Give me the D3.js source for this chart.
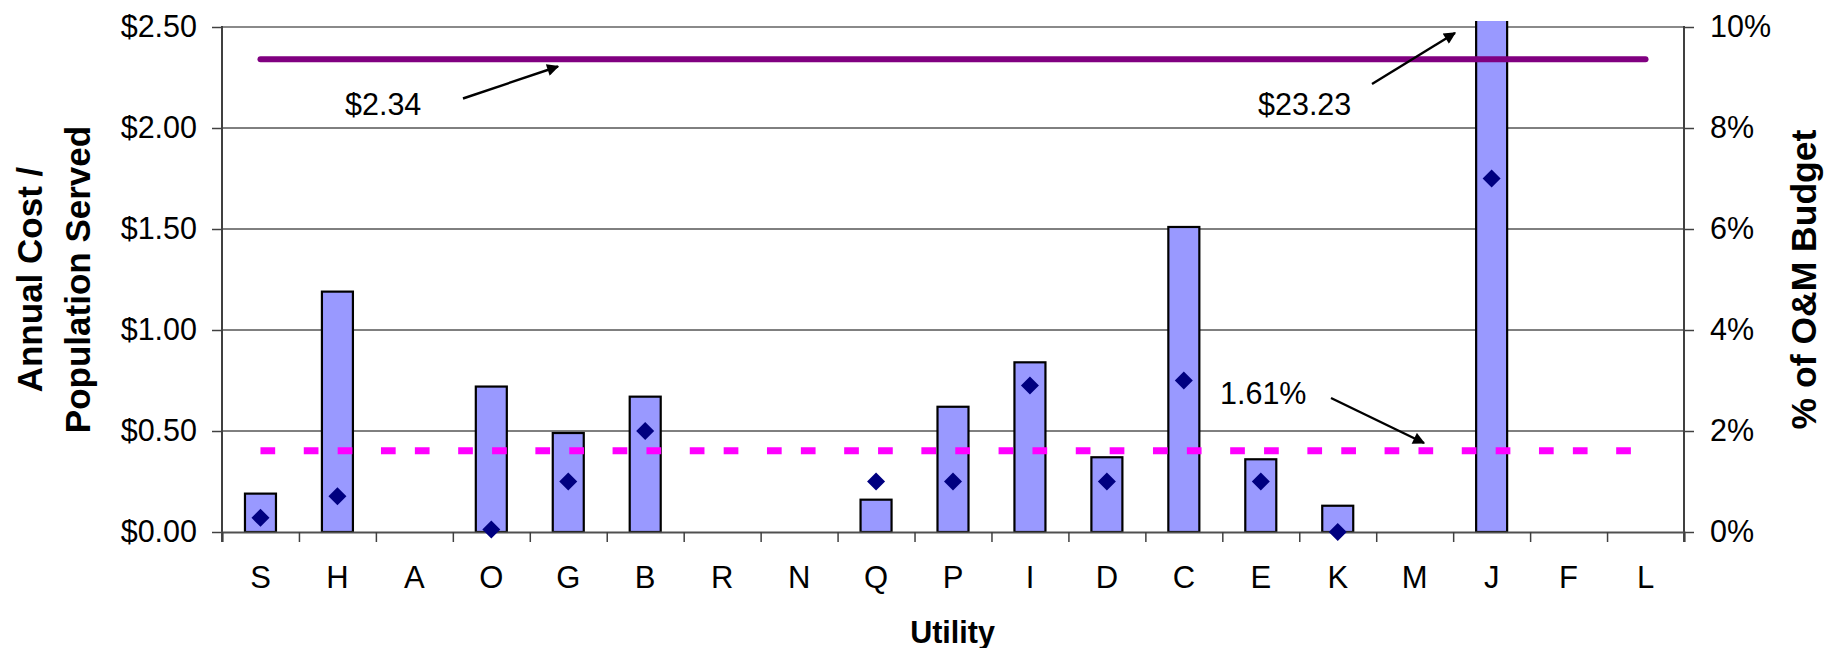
<!DOCTYPE html>
<html>
<head>
<meta charset="utf-8">
<script src="https://cdn.jsdelivr.net/npm/d3@7"></script>
<style>
  html, body { margin: 0; padding: 0; background: #fff; }
  svg { display: block; }
  text { font-family: "Liberation Sans", Arial, sans-serif; fill: #000; }
</style>
</head>
<body>
<svg id="chart" width="1831" height="648"></svg>
<script>
// Utilities, in the order they appear along the x axis
const utilities = ["S","H","A","O","G","B","R","N","Q","P","I","D","C","E","K","M","J","F","L"];
// Annual cost per person served (dollars); null = not reported
const costPerCapita = [0.19, 1.19, null, 0.72, 0.49, 0.67, null, null, 0.16, 0.62, 0.84, 0.37, 1.51, 0.36, 0.13, null, 23.23, null, null];
// Share of the O&M budget (percent)
const pctOfBudget = [0.28, 0.71, null, 0.05, 1.0, 2.0, null, null, 1.0, 1.0, 2.9, 1.0, 3.0, 1.0, 0.0, null, 7.0, null, null];
// Averages across reporting utilities
const averageCost = 2.34;
const averagePct = 1.61;
const outlierCost = 23.23;
// Axis ticks
const costTicks = [0, 0.5, 1.0, 1.5, 2.0, 2.5];
const pctTicks = [0, 2, 4, 6, 8, 10];

const svg = d3.select("#chart");
const W = 1831, H = 648;
const m = { left: 222, right: 1684, top: 27, bottom: 532 };
const FONT = "'Liberation Sans', Arial, sans-serif";

svg.append("rect").attr("width", W).attr("height", H).attr("fill", "#fff");

const xBand = d3.scaleBand().domain(utilities).range([m.left, m.right]).paddingInner(0).paddingOuter(0);
const xIdx = d3.scaleLinear().domain([0, utilities.length]).range([m.left, m.right]);
const yCost = d3.scaleLinear().domain([0, 2.5]).range([m.bottom, m.top]);
const yPct = d3.scaleLinear().domain([0, 10]).range([m.bottom, m.top]);
const cx = u => xBand(u) + xBand.bandwidth() / 2;

// Horizontal gridlines
svg.append("g").selectAll("line")
  .data(costTicks.filter(t => t > 0 && t < 2.5))
  .join("line")
  .attr("x1", m.left).attr("x2", m.right)
  .attr("y1", d => yCost(d)).attr("y2", d => yCost(d))
  .attr("stroke", "#000").attr("stroke-width", 1);

// Top border of the plot area
svg.append("line")
  .attr("x1", m.left).attr("x2", m.right)
  .attr("y1", yCost(2.5)).attr("y2", yCost(2.5))
  .attr("stroke", "#8a8a8a").attr("stroke-width", 2);

// Bars (clipped just above the plot area for the off-scale value)
svg.append("clipPath").attr("id", "barClip")
  .append("rect").attr("x", m.left).attr("y", m.top - 6)
  .attr("width", m.right - m.left).attr("height", m.bottom - m.top + 6);

const barW = 31;
const barData = utilities.map((u, i) => ({ u, v: costPerCapita[i] })).filter(d => d.v != null);
svg.append("g").attr("clip-path", "url(#barClip)")
  .selectAll("rect").data(barData).join("rect")
  .attr("x", d => cx(d.u) - barW / 2)
  .attr("y", d => yCost(d.v))
  .attr("width", barW)
  .attr("height", d => m.bottom - yCost(d.v))
  .attr("fill", "#9999ff")
  .attr("stroke", "#000").attr("stroke-width", 2.2);

// Average cost line
svg.append("line")
  .attr("x1", cx(utilities[0])).attr("x2", cx(utilities[utilities.length - 1]))
  .attr("y1", yCost(averageCost)).attr("y2", yCost(averageCost))
  .attr("stroke", "#800080").attr("stroke-width", 6).attr("stroke-linecap", "round");

// Average budget share line (dashed)
svg.append("line")
  .attr("x1", cx(utilities[0])).attr("x2", cx(utilities[utilities.length - 1]))
  .attr("y1", yPct(averagePct)).attr("y2", yPct(averagePct))
  .attr("stroke", "#ff00ff").attr("stroke-width", 7)
  .attr("stroke-dasharray", "14.7,28.6,14.7,19.2");

// Axes lines
svg.append("line").attr("x1", m.left).attr("x2", m.left).attr("y1", m.top - 1).attr("y2", m.bottom + 10)
  .attr("stroke", "#404040").attr("stroke-width", 2);
svg.append("line").attr("x1", m.right).attr("x2", m.right).attr("y1", m.top - 1).attr("y2", m.bottom + 10)
  .attr("stroke", "#404040").attr("stroke-width", 2);

// Left axis
const leftAxis = svg.append("g").attr("transform", `translate(${m.left},0)`)
  .call(d3.axisLeft(yCost).tickValues(costTicks).tickSize(10).tickPadding(15)
    .tickFormat(d => "$" + d3.format(".2f")(d)));
leftAxis.select(".domain").remove();
leftAxis.selectAll(".tick line").attr("stroke", "#404040").attr("stroke-width", 1.5);
leftAxis.selectAll(".tick text").style("font-size", "30.5px").style("font-family", FONT).attr("fill", "#000");

// Right axis
const rightAxis = svg.append("g").attr("transform", `translate(${m.right},0)`)
  .call(d3.axisRight(yPct).tickValues(pctTicks).tickSize(10).tickPadding(16)
    .tickFormat(d => d + "%"));
rightAxis.select(".domain").remove();
rightAxis.selectAll(".tick line").attr("stroke", "#404040").attr("stroke-width", 1.5);
rightAxis.selectAll(".tick text").style("font-size", "30.5px").style("font-family", FONT).attr("fill", "#000");

// Bottom axis: boundary ticks
const tickAxis = svg.append("g").attr("transform", `translate(0,${m.bottom})`)
  .call(d3.axisBottom(xIdx).tickValues(d3.range(utilities.length + 1)).tickSize(10).tickFormat(""));
tickAxis.select(".domain").attr("stroke", "#505050").attr("stroke-width", 2);
tickAxis.selectAll(".tick line").attr("stroke", "#404040").attr("stroke-width", 1.5);

// Bottom axis: category labels
const labelAxis = svg.append("g").attr("transform", `translate(0,${m.bottom})`)
  .call(d3.axisBottom(xBand).tickSize(0).tickPadding(34));
labelAxis.select(".domain").remove();
labelAxis.selectAll(".tick text").style("font-size", "31px").style("font-family", FONT).attr("fill", "#000");

// Budget share markers (diamonds)
const ptData = utilities.map((u, i) => ({ u, v: pctOfBudget[i] })).filter(d => d.v != null);
const r = 9;
svg.append("g").selectAll("path").data(ptData).join("path")
  .attr("transform", d => `translate(${cx(d.u)},${yPct(d.v)})`)
  .attr("d", `M0,${-r}L${r},0L0,${r}L${-r},0Z`)
  .attr("fill", "#000080");

// Annotation arrows
const defs = svg.append("defs");
defs.append("marker").attr("id", "arrowHead")
  .attr("viewBox", "0 0 10 10").attr("refX", 9).attr("refY", 5)
  .attr("markerWidth", 6).attr("markerHeight", 5).attr("markerUnits", "strokeWidth")
  .attr("orient", "auto")
  .append("path").attr("d", "M0,0L10,5L0,10Z").attr("fill", "#000");

function arrow(x1, y1, x2, y2) {
  svg.append("line").attr("x1", x1).attr("y1", y1).attr("x2", x2).attr("y2", y2)
    .attr("stroke", "#000").attr("stroke-width", 2.4).attr("marker-end", "url(#arrowHead)");
}
const fmtCost = d => "$" + d3.format(".2f")(d);

svg.append("text").attr("x", 345).attr("y", 115).style("font-size", "30.5px").text(fmtCost(averageCost));
arrow(463, 98.5, 558, 66.5);

svg.append("text").attr("x", 1258).attr("y", 115).style("font-size", "30.5px").text(fmtCost(outlierCost));
arrow(1372, 84, 1455, 33);

svg.append("text").attr("x", 1220).attr("y", 404).style("font-size", "30.5px").text(averagePct.toFixed(2) + "%");
arrow(1331, 398, 1424, 443);

// Axis titles
svg.append("text")
  .attr("transform", `translate(952.5,643)`)
  .attr("text-anchor", "middle")
  .style("font-size", "30.5px").style("font-weight", "bold")
  .text("Utility");

const yMid = (m.top + m.bottom) / 2;
const leftTitle = svg.append("text")
  .attr("transform", `translate(0,${yMid}) rotate(-90)`)
  .attr("text-anchor", "middle")
  .style("font-size", "35px").style("font-weight", "bold");
leftTitle.append("tspan").attr("x", 0).attr("y", 42).text("Annual Cost /");
leftTitle.append("tspan").attr("x", 0).attr("y", 90).text("Population Served");

svg.append("text")
  .attr("transform", `translate(1816,${yMid}) rotate(-90)`)
  .attr("text-anchor", "middle")
  .style("font-size", "35.5px").style("font-weight", "bold")
  .text("% of O&M Budget");
</script>
</body>
</html>
